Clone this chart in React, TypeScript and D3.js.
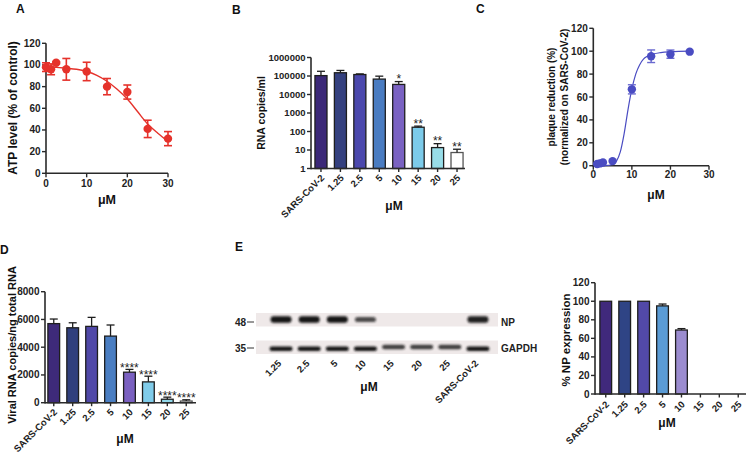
import React from 'react';
import * as d3 from 'd3';

// ---------- Panel A: ATP level ----------
const atpConc = [0, 1.25, 2.5, 5, 10, 15, 20, 25, 30];
const atpMean = [98, 96, 102, 96, 94, 80, 75, 41, 32];
const atpErr = [4, 5, 1, 10, 8.5, 7.5, 6.5, 8, 6.5];
const atpFitX = [0, 2.5, 5, 7.5, 10, 12.5, 15, 17.5, 20, 22.5, 25, 27.5, 30];
const atpFitY = [98, 97.8, 97, 96, 94, 90.5, 85, 77.5, 68.5, 57, 45.5, 37, 29.5];
const atpYTicks = [0, 20, 40, 60, 80, 100, 120];
const atpXTicks = [0, 10, 20, 30];

// ---------- Panel B: RNA copies/ml ----------
const doseCats = ['SARS-CoV-2', '1.25', '2.5', '5', '10', '15', '20', '25'];
const rnaMl = [105000, 150000, 120000, 68000, 35000, 170, 13.5, 7.3];
const rnaMlErr = [75000, 50000, 10000, 30000, 15000, 25, 8.5, 3.7];
const rnaMlStars = ['', '', '', '', '*', '**', '**', '**'];
const rnaMlTicks = [1, 10, 100, 1000, 10000, 100000, 1000000];

// ---------- Panel C: plaque reduction ----------
const prConc = [1, 1.7, 2.5, 5, 10, 15, 20, 25];
const prMean = [1.5, 2, 2.8, 4, 66.7, 95.6, 97.4, 99.6];
const prErr = [0.5, 0.5, 0.8, 1, 4, 5.5, 3.6, 1];
const prFitX = [1, 4, 5, 6, 7, 8, 9, 10, 11, 12, 13, 14, 15, 17.5, 20, 25];
const prFitY = [0, 0.3, 1, 4, 12, 28, 49, 67, 80, 88, 93, 95.5, 97, 98.8, 99.5, 100];
const prYTicks = [0, 20, 40, 60, 80, 100, 120];
const prXTicks = [0, 10, 20, 30];

// ---------- Panel D: viral RNA copies/ng ----------
const viralRna = [5700, 5400, 5500, 4800, 2200, 1500, 250, 120];
const viralRnaErr = [330, 360, 650, 800, 200, 410, 150, 90];
const viralStars = ['', '', '', '', '****', '****', '****', '****'];
const viralTicks = [0, 2000, 4000, 6000, 8000];

// ---------- Panel E: western blot ----------
const blotLanes = ['1.25', '2.5', '5', '10', '15', '20', '25', 'SARS-CoV-2'];
const npLevel = [1, 1, 1, 0.75, 0, 0, 0, 0.95];
const gapdhLevel = [1, 1, 1, 1, 0.8, 0.8, 0.8, 1];

// ---------- Panel E: % NP expression ----------
const npExpr = [100, 100, 100, 95, 69, 0, 0, 0];
const npExprErr = [0, 0, 0, 2, 1.5, 0, 0, 0];
const npTicks = [0, 20, 40, 60, 80, 100, 120];

const FONT = '"Liberation Sans", Arial, Helvetica, sans-serif';
const AXIS = '#2a2a2a';
const RED = '#e5322b';
const BLUE = '#4a4cc2';
const colorsB = ['#3b2878', '#34407f', '#4b48ad', '#4a7cc1', '#7a62c2', '#7ccbea', '#98dde8', '#ffffff'];
const colorsD = ['#3e2a7a', '#303f7d', '#5048a8', '#4a7ec2', '#7a60c0', '#80ccea', '#92d8ea', '#ffffff'];
const colorsE = ['#40297c', '#2f4485', '#5249a8', '#5a9bd5', '#9b8ccf', '#cccccc', '#cccccc', '#cccccc'];

function YAxis({ scale, ticks, x, fontSize = 10, fmt = (t: number) => String(t) }: any) {
  const [r0, r1] = scale.range();
  return (
    <g>
      <line x1={x} x2={x} y1={r0 + 0.8} y2={r1} stroke={AXIS} strokeWidth={1.6} />
      {ticks.map((t: number, i: number) => (
        <g key={i}>
          <line x1={x - 4} x2={x} y1={scale(t)} y2={scale(t)} stroke={AXIS} strokeWidth={1.4} />
          <text x={x - 5.5} y={scale(t)} dy="0.35em" textAnchor="end" fontSize={fontSize} fontWeight="bold" fill="#222">
            {fmt(t)}
          </text>
        </g>
      ))}
    </g>
  );
}

function XAxisLinear({ scale, ticks, y, labelDy = 13.5, fontSize = 10 }: any) {
  const [r0, r1] = scale.range();
  return (
    <g>
      <line x1={r0 - 0.8} x2={r1} y1={y} y2={y} stroke={AXIS} strokeWidth={1.6} />
      {ticks.map((t: number, i: number) => (
        <g key={i}>
          <line x1={scale(t)} x2={scale(t)} y1={y} y2={y + 4} stroke={AXIS} strokeWidth={1.4} />
          <text x={scale(t)} y={y + labelDy} textAnchor="middle" fontSize={fontSize} fontWeight="bold" fill="#222">
            {t}
          </text>
        </g>
      ))}
    </g>
  );
}

function BarPanel({ xs, ys, values, errs, colors, stars, base, fontSize = 9.5, starGap = 1.5, axisX0, axisX1, labelDx = 4, labelDy = 10 }: any) {
  const axisY = ys(base);
  const bw = xs.bandwidth();
  return (
    <g>
      {doseCats.map((c: string, i: number) => {
        const x = xs(c);
        const cx = x + bw / 2;
        const v = values[i];
        const top = ys(Math.max(v, base));
        const e = errs[i];
        const errTop = ys(Math.max(v + e, base));
        return (
          <g key={c}>
            {v > base && (
              <rect x={x} y={top} width={bw} height={axisY - top} fill={colors[i]} stroke={i === 7 ? '#555' : '#1e1e1e'} strokeWidth={1.3} />
            )}
            {e > 0 && (
              <g stroke="#1e1e1e" strokeWidth={1.3}>
                <line x1={cx} x2={cx} y1={top} y2={errTop} />
                <line x1={cx - 4} x2={cx + 4} y1={errTop} y2={errTop} />
              </g>
            )}
            {stars && stars[i] && (
              <text x={cx} y={errTop + starGap} textAnchor="middle" fontSize={12} fill="#222">
                {stars[i]}
              </text>
            )}
            <line x1={cx} x2={cx} y1={axisY} y2={axisY + 3.5} stroke={AXIS} strokeWidth={1.4} />
            <text transform={`translate(${cx + labelDx},${axisY + labelDy}) rotate(-45)`} textAnchor="end" fontSize={fontSize} fontWeight="bold" fill="#222">
              {c}
            </text>
          </g>
        );
      })}
      <line x1={axisX0} x2={axisX1} y1={axisY} y2={axisY} stroke={AXIS} strokeWidth={1.6} />
    </g>
  );
}

export default function App() {
  // Panel A scales
  const ax = d3.scaleLinear().domain([0, 30]).range([46, 168]);
  const ay = d3.scaleLinear().domain([0, 120]).range([173.3, 43.3]);
  const aLine = d3
    .line<number>()
    .x((d, i) => ax(atpFitX[i]))
    .y((d) => ay(d))
    .curve(d3.curveMonotoneX);

  // Panel B scales
  const bx = d3.scaleBand<string>().domain(doseCats).range([313, 465]).paddingInner(0.38).paddingOuter(0.1);
  const by = d3.scaleLog().domain([1, 1000000]).range([168.5, 57.5]);

  // Panel C scales
  const cx = d3.scaleLinear().domain([0, 30]).range([593.3, 709]);
  const cy = d3.scaleLinear().domain([0, 120]).range([165.7, 28.3]);
  const cLine = d3
    .line<number>()
    .x((d, i) => cx(prFitX[i]))
    .y((d) => cy(d))
    .curve(d3.curveMonotoneX);

  // Panel D scales
  const dx = d3.scaleBand<string>().domain(doseCats).range([46, 194]).paddingInner(0.38).paddingOuter(0.1);
  const dy = d3.scaleLinear().domain([0, 8000]).range([402.7, 291.7]);

  // Panel E blot
  const lx = d3.scaleBand<string>().domain(blotLanes).range([267, 492]);

  // Panel E bars
  const ex = d3.scaleBand<string>().domain(doseCats).range([598, 746]).paddingInner(0.38).paddingOuter(0.1);
  const ey = d3.scaleLinear().domain([0, 120]).range([394, 282.7]);

  return (
    <svg
      width={748}
      height={455}
      viewBox="0 0 748 455"
      style={{ position: 'absolute', left: 0, top: 0, background: '#fff' }}
      fontFamily={FONT}
    >
      <defs>
        <filter id="blur" x="-30%" y="-80%" width="160%" height="260%">
          <feGaussianBlur stdDeviation="0.9" />
        </filter>
      </defs>
      <rect width={748} height={455} fill="#fff" />

      {/* Panel labels */}
      <g fontSize={12} fontWeight="bold" fill="#111">
        <text x={16} y={12.5}>A</text>
        <text x={232} y={13.5}>B</text>
        <text x={476} y={12.5}>C</text>
        <text x={0} y={253.5}>D</text>
        <text x={235} y={250.5}>E</text>
      </g>

      {/* ================= Panel A ================= */}
      <g>
        <YAxis scale={ay} ticks={atpYTicks} x={46} />
        <XAxisLinear scale={ax} ticks={atpXTicks} y={173.3} labelDy={13.5} />
        <path d={aLine(atpFitY) || ''} fill="none" stroke={RED} strokeWidth={1.4} />
        {atpConc.map((c, i) => (
          <g key={i} stroke={RED} strokeWidth={1.6}>
            <line x1={ax(c)} x2={ax(c)} y1={ay(atpMean[i] - atpErr[i])} y2={ay(atpMean[i] + atpErr[i])} />
            <line x1={ax(c) - 4} x2={ax(c) + 4} y1={ay(atpMean[i] - atpErr[i])} y2={ay(atpMean[i] - atpErr[i])} />
            <line x1={ax(c) - 4} x2={ax(c) + 4} y1={ay(atpMean[i] + atpErr[i])} y2={ay(atpMean[i] + atpErr[i])} />
            <circle cx={ax(c)} cy={ay(atpMean[i])} r={4.2} fill={RED} stroke="none" />
          </g>
        ))}
        <text transform="translate(17,108) rotate(-90)" textAnchor="middle" fontSize={12} fontWeight="bold" fill="#111">
          ATP level (% of control)
        </text>
        <text x={107} y={204} textAnchor="middle" fontSize={12.5} fontWeight="bold" fill="#111">μM</text>
      </g>

      {/* ================= Panel B ================= */}
      <g>
        <BarPanel xs={bx} ys={by} values={rnaMl} errs={rnaMlErr} colors={colorsB} stars={rnaMlStars} base={1} starGap={1.5} axisX0={311} axisX1={465} />
        <YAxis scale={by} ticks={rnaMlTicks} x={311} fontSize={9.5} />
        <text transform="translate(265,113) rotate(-90)" textAnchor="middle" fontSize={10.5} fontWeight="bold" fill="#111">
          RNA copies/ml
        </text>
        <text x={394} y={210} textAnchor="middle" fontSize={12} fontWeight="bold" fill="#111">μM</text>
      </g>

      {/* ================= Panel C ================= */}
      <g>
        <YAxis scale={cy} ticks={prYTicks} x={593.3} />
        <XAxisLinear scale={cx} ticks={prXTicks} y={165.7} labelDy={12} />
        <path d={cLine(prFitY) || ''} fill="none" stroke={BLUE} strokeWidth={1.2} />
        {prConc.map((c, i) => (
          <g key={i} stroke="#6a6ad0" strokeWidth={1.4}>
            <line x1={cx(c)} x2={cx(c)} y1={cy(prMean[i] - prErr[i])} y2={cy(prMean[i] + prErr[i])} />
            {prErr[i] > 2 && (
              <>
                <line x1={cx(c) - 4} x2={cx(c) + 4} y1={cy(prMean[i] - prErr[i])} y2={cy(prMean[i] - prErr[i])} />
                <line x1={cx(c) - 4} x2={cx(c) + 4} y1={cy(prMean[i] + prErr[i])} y2={cy(prMean[i] + prErr[i])} />
              </>
            )}
            <circle cx={cx(c)} cy={cy(prMean[i])} r={4.2} fill={BLUE} stroke="none" />
          </g>
        ))}
        <g fontSize={10} fontWeight="bold" fill="#111" textAnchor="middle">
          <text transform="translate(555,97) rotate(-90)">plaque reduction (%)</text>
          <text transform="translate(568,97) rotate(-90)">(normalized on SARS-CoV-2)</text>
        </g>
        <text x={656} y={199} textAnchor="middle" fontSize={12} fontWeight="bold" fill="#111">μM</text>
      </g>

      {/* ================= Panel D ================= */}
      <g>
        <BarPanel xs={dx} ys={dy} values={viralRna} errs={viralRnaErr} colors={colorsD} stars={viralStars} base={0} starGap={2.5} axisX0={45} axisX1={196} />
        <YAxis scale={dy} ticks={viralTicks} x={45} fontSize={10} />
        <text transform="translate(16,345) rotate(-90)" textAnchor="middle" fontSize={11} fontWeight="bold" fill="#111">
          Viral RNA copies/ng total RNA
        </text>
        <text x={125} y={443} textAnchor="middle" fontSize={12} fontWeight="bold" fill="#111">μM</text>
      </g>

      {/* ================= Panel E: blot ================= */}
      <g>
        <rect x={256} y={313} width={242} height={13.5} fill="#efe9e9" />
        <rect x={256} y={340.5} width={242} height={13.5} fill="#efe9e9" />
        {blotLanes.map((l, i) => {
          const c = (lx(l) as number) + lx.bandwidth() / 2;
          const raised = npLevel[i] === 0 ? -1.8 : 0;
          return (
            <g key={l}>
              {npLevel[i] > 0 && (
                <rect x={c - 10.5} y={319.5 - (npLevel[i] > 0.9 ? 3.2 : 2.6)} width={21} height={npLevel[i] > 0.9 ? 6.4 : 5.2} rx={3} fill="#141414" opacity={npLevel[i]} filter="url(#blur)" />
              )}
              <rect x={c - 11.5} y={346.5 + raised} width={23} height={4.6} rx={2.3} fill="#141414" opacity={gapdhLevel[i]} filter="url(#blur)" />
              <text transform={`translate(${c + 1},${364}) rotate(-45)`} textAnchor="end" fontSize={9.5} fontWeight="bold" fill="#222">
                {l}
              </text>
            </g>
          );
        })}
        <g fontSize={10} fontWeight="bold" fill="#222">
          <text x={235} y={325.5}>48</text>
          <text x={235} y={351.5}>35</text>
          <text x={501} y={325.5}>NP</text>
          <text x={501} y={352}>GAPDH</text>
        </g>
        <line x1={247} x2={254} y1={322} y2={322} stroke="#333" strokeWidth={1} />
        <line x1={247} x2={254} y1={348} y2={348} stroke="#333" strokeWidth={1} />
        <text x={369} y={391} textAnchor="middle" fontSize={12} fontWeight="bold" fill="#111">μM</text>
      </g>

      {/* ================= Panel E: % NP expression ================= */}
      <g>
        <BarPanel xs={ex} ys={ey} values={npExpr} errs={npExprErr} colors={colorsE} base={0} axisX0={595} axisX1={746} labelDy={11} />
        <YAxis scale={ey} ticks={npTicks} x={595} fontSize={10} />
        <text transform="translate(570,340) rotate(-90)" textAnchor="middle" fontSize={11.5} fontWeight="bold" fill="#111">
          % NP expression
        </text>
        <text x={667} y={427} textAnchor="middle" fontSize={12} fontWeight="bold" fill="#111">μM</text>
      </g>
    </svg>
  );
}
